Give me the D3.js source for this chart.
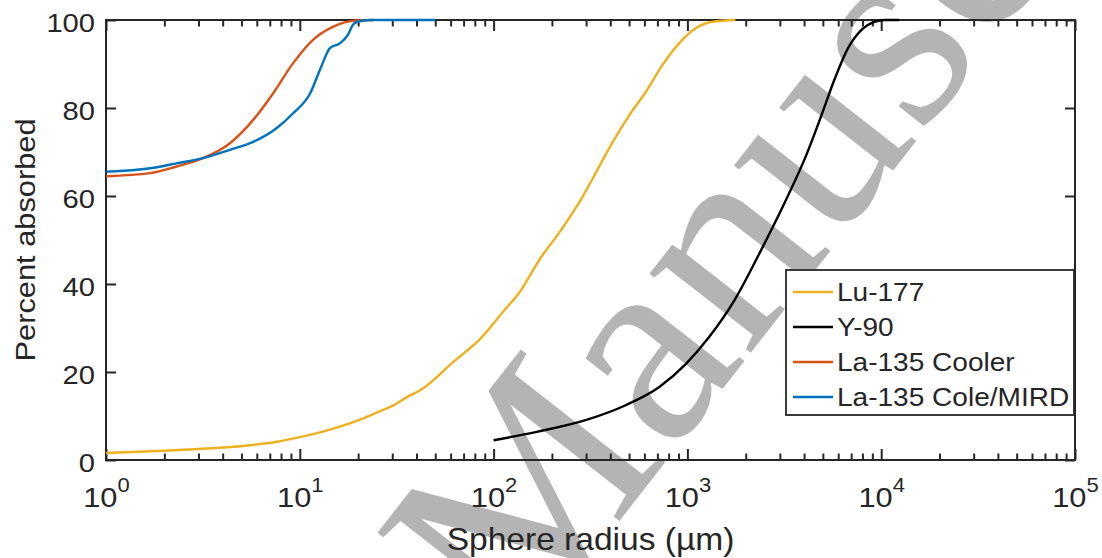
<!DOCTYPE html>
<html>
<head>
<meta charset="utf-8">
<script src="https://cdn.jsdelivr.net/npm/d3@7"></script>
<style>
  body { margin: 0; background: #fff; }
</style>
</head>
<body>
<div id="chart"></div>
<script>
"use strict";

// values (radius in µm, percent absorbed)
var lu177Radius  = [1, 2, 3, 5.4, 7.5, 10, 14, 20, 25, 30, 36, 42, 62, 86, 112, 137, 174, 220, 278, 339, 412, 502, 611, 744, 906, 1104, 1343, 1770];
var lu177Percent = [1.6, 2.1, 2.5, 3.3, 4.1, 5.2, 6.8, 9.0, 10.8, 12.3, 14.4, 15.9, 22.3, 27.7, 33.7, 38.3, 45.8, 51.9, 58.7, 65.5, 72.3, 78.4, 83.7, 89.8, 94.7, 98.1, 99.6, 100];

var y90Radius  = [100, 167, 301, 483, 716, 980, 1291, 1770, 2426, 3193, 4045, 4922, 5766, 6745, 7889, 9240, 10400, 12400];
var y90Percent = [4.5, 6.4, 9.1, 12.5, 16.6, 21.8, 27.9, 36.7, 48.1, 58.7, 68.6, 78.4, 86.7, 93.6, 97.7, 99.6, 100, 100];

var coolerRadius  = [1, 1.69, 2.31, 3.17, 4.36, 5.75, 7.28, 9.24, 11.7, 14.9, 18.8, 24];
var coolerPercent = [64.5, 65.2, 66.7, 68.6, 72.0, 77.3, 83.3, 90.2, 95.5, 98.5, 99.8, 100];

var mirdRadius  = [1, 1.69, 2.31, 3.17, 4.36, 5.75, 7.58, 9.24, 11.3, 12.9, 14.3, 16.1, 17.7, 18.8, 19.9, 23, 50];
var mirdPercent = [65.5, 66.3, 67.4, 68.6, 70.5, 72.3, 75.4, 78.8, 83.3, 89.4, 93.6, 94.7, 96.6, 98.9, 99.6, 100, 100];

var seriesNames  = ["Lu-177", "Y-90", "La-135 Cooler", "La-135 Cole/MIRD"];
var seriesColors = ["#EDB120", "#000000", "#D95319", "#0072BD"];

var xMajorTicks = [1, 10, 100, 1000, 10000, 100000];
var yTicks = [0, 20, 40, 60, 80, 100];

function createAbsorbedChart(containerId) {

  var width = 1102;
  var height = 558;
  var margin = {top: 20, right: 27, bottom: 98, left: 106};
  var innerW = width - margin.left - margin.right,
      innerH = height - margin.top - margin.bottom;

  var ink = "#262626";
  var stretch = 1.1; // the original font is wider than Arial

  var svg = d3.select(containerId).append("svg")
      .attr("width", width)
      .attr("height", height)
      .style("font-family", "'Liberation Sans', Arial, sans-serif");

  // gray "Manuscript" watermark sits under everything
  svg.append("text")
      .attr("transform", "translate(517,652) rotate(-52)")
      .attr("font-family", "'Liberation Serif', 'Times New Roman', serif")
      .attr("font-size", 280)
      .attr("fill", "#b4b4b4")
      .text("Manuscript");

  var g = svg.append("g")
      .attr("transform", "translate(" + margin.left + "," + margin.top + ")");

  var x = d3.scaleLog().domain([1, 1e5]).range([0, innerW]);
  var y = d3.scaleLinear().domain([0, 100]).range([innerH, 0]);

  var minorTicks = x.ticks().filter(function(d) {
    var l = Math.log10(d);
    return Math.abs(l - Math.round(l)) > 1e-6;
  });

  function styleAxis(sel) {
    sel.attr("font-size", null).attr("font-family", null).attr("color", ink);
    sel.select(".domain").remove();
    sel.selectAll("line").attr("stroke-width", 2);
  }

  // minor and major ticks, bottom and top, pointing inside
  g.append("g").attr("transform", "translate(0," + innerH + ")")
      .call(d3.axisBottom(x).tickValues(minorTicks).tickSizeInner(-6.5).tickSizeOuter(0).tickFormat(""))
      .call(styleAxis);
  g.append("g")
      .call(d3.axisTop(x).tickValues(minorTicks).tickSizeInner(-6.5).tickSizeOuter(0).tickFormat(""))
      .call(styleAxis);
  g.append("g")
      .call(d3.axisTop(x).tickValues(xMajorTicks).tickSizeInner(-11).tickSizeOuter(0).tickFormat(""))
      .call(styleAxis);

  var bottom = g.append("g").attr("transform", "translate(0," + innerH + ")")
      .call(d3.axisBottom(x).tickValues(xMajorTicks).tickSizeInner(-11).tickSizeOuter(0))
      .call(styleAxis);
  bottom.selectAll("text").each(function(d) {
    var t = d3.select(this);
    t.text(null)
      .attr("y", 47)
      .attr("dy", null)
      .attr("font-size", 28)
      .attr("transform", "scale(" + stretch + ",1)");
    t.append("tspan").text("10");
    t.append("tspan").attr("dy", -15).attr("font-size", 20).text(Math.round(Math.log10(d)));
  });

  var left = g.append("g")
      .call(d3.axisLeft(y).tickValues(yTicks).tickSizeInner(-10).tickSizeOuter(0).tickPadding(10))
      .call(styleAxis);
  left.selectAll("text")
      .attr("dy", 11)
      .attr("font-size", 26.5)
      .attr("transform", "scale(" + stretch + ",1)");

  g.append("g").attr("transform", "translate(" + innerW + ",0)")
      .call(d3.axisRight(y).tickValues(yTicks).tickSizeInner(-10).tickSizeOuter(0).tickFormat(""))
      .call(styleAxis);

  // axes box
  g.append("rect")
      .attr("width", innerW)
      .attr("height", innerH)
      .attr("fill", "none")
      .attr("stroke", ink)
      .attr("stroke-width", 2);

  // data lines
  var radii = [lu177Radius, y90Radius, coolerRadius, mirdRadius];
  var percents = [lu177Percent, y90Percent, coolerPercent, mirdPercent];

  var lineDef = d3.line()
      .x(function(d) { return x(d[0]); })
      .y(function(d) { return y(d[1]); })
      .curve(d3.curveMonotoneX);

  radii.forEach(function(r, i) {
    var pts = r.map(function(v, j) { return [v, percents[i][j]]; });
    g.append("path")
        .datum(pts)
        .attr("fill", "none")
        .attr("stroke", seriesColors[i])
        .attr("stroke-width", 2.4)
        .attr("stroke-linejoin", "round")
        .attr("d", lineDef);
  });

  // axis labels
  svg.append("text")
      .attr("transform", "translate(" + (margin.left + innerW / 2) + ",550) scale(" + stretch + ",1)")
      .attr("text-anchor", "middle")
      .attr("font-size", 30.5)
      .attr("fill", ink)
      .text("Sphere radius (\u00b5m)");

  svg.append("text")
      .attr("transform", "translate(35," + (margin.top + innerH / 2) + ") rotate(-90) scale(" + stretch + ",1)")
      .attr("text-anchor", "middle")
      .attr("font-size", 28)
      .attr("fill", ink)
      .text("Percent absorbed");

  // legend
  var legend = g.append("g").attr("transform", "translate(680,250)");
  legend.append("rect")
      .attr("width", 288)
      .attr("height", 145)
      .attr("fill", "#fff")
      .attr("stroke", ink)
      .attr("stroke-width", 1.8);

  seriesNames.forEach(function(name, i) {
    var row = legend.append("g").attr("transform", "translate(0," + (22 + i * 35) + ")");
    row.append("line")
        .attr("x1", 7).attr("x2", 47)
        .attr("stroke", seriesColors[i])
        .attr("stroke-width", 2.4);
    row.append("text")
        .attr("transform", "translate(51,9) scale(" + stretch + ",1)")
        .attr("font-size", 25.5)
        .attr("fill", ink)
        .text(name);
  });
}

createAbsorbedChart("#chart");
</script>
</body>
</html>
